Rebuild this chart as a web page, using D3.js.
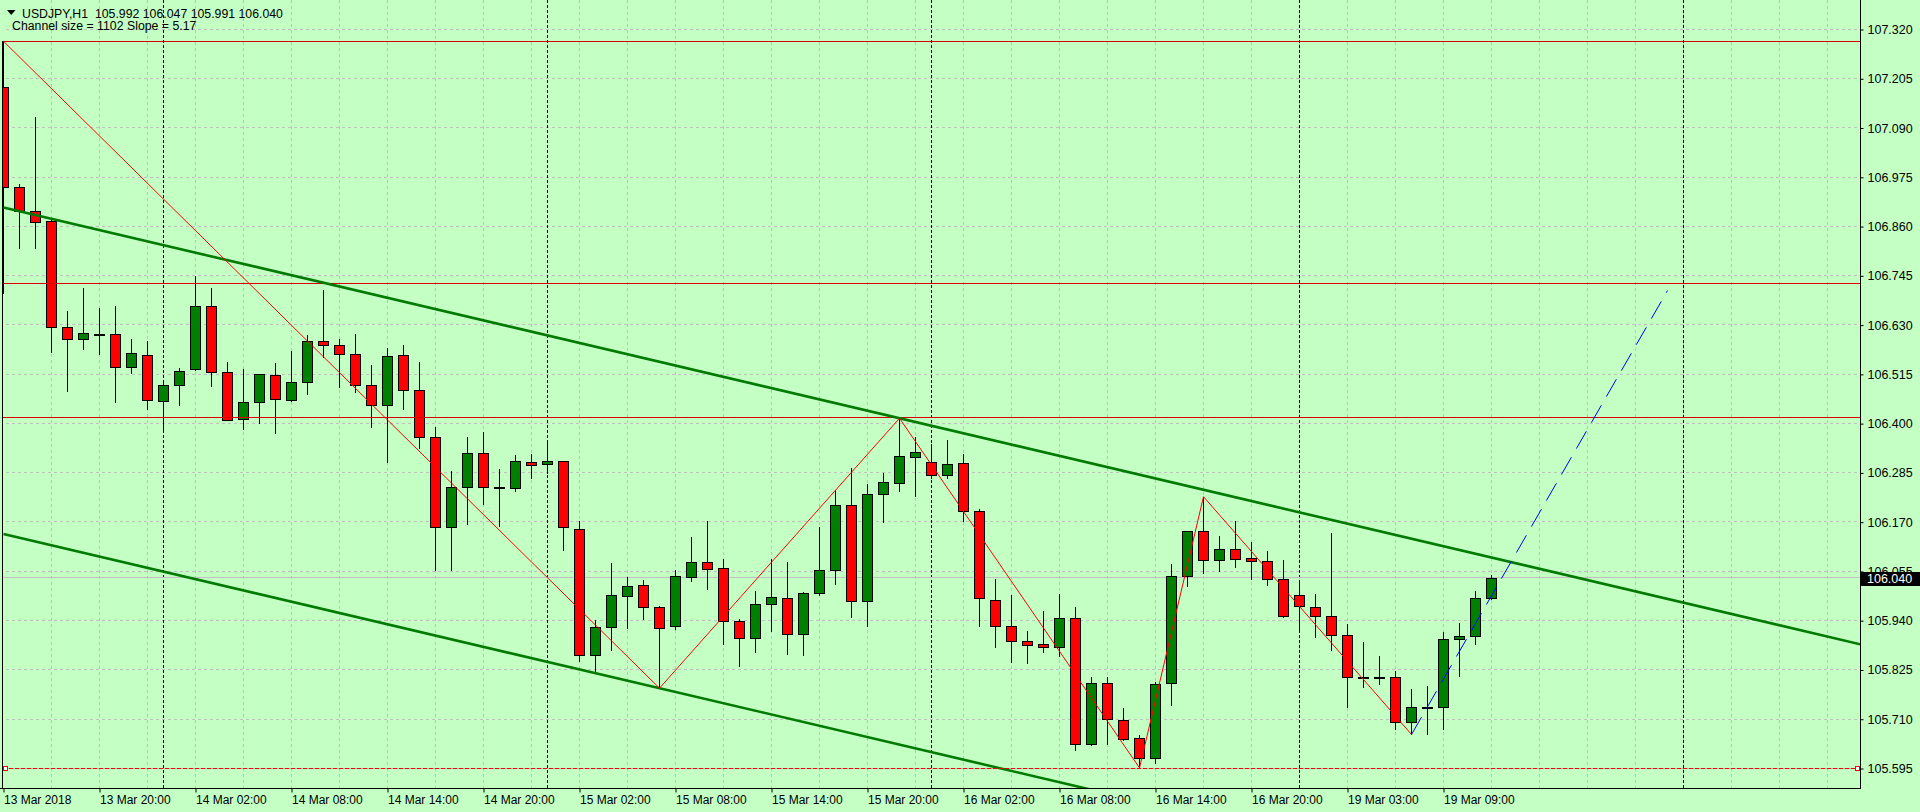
<!DOCTYPE html>
<html><head><meta charset="utf-8">
<script src="https://cdn.jsdelivr.net/npm/d3@7/dist/d3.min.js"></script>
<style>
html,body{margin:0;padding:0;background:#C4FFC4;overflow:hidden}
svg{display:block}
text{font-family:"Liberation Sans",Arial,sans-serif}
</style></head><body>
<svg id="chart" width="1920" height="812"></svg>
<script>
// ---------------- DATA ----------------
const symbolTitle = "USDJPY,H1";
const lastOHLC = ["105.992", "106.047", "105.991", "106.040"];
const channelInfo = "Channel size = 1102 Slope = 5.17";

const opens = [
107.185,106.951,106.897,106.872,106.624,106.596,106.608,106.608,106.531,106.559,
106.452,106.489,106.526,106.673,106.519,106.410,106.451,106.512,106.454,106.496,
106.592,106.582,106.561,106.489,106.442,106.559,106.477,106.368,106.159,106.252,
106.330,106.252,106.250,106.311,106.305,106.312,106.154,105.860,105.924,105.998,
106.022,105.971,105.926,106.042,106.076,106.062,105.940,105.898,105.978,105.992,
105.908,106.005,106.059,106.209,105.986,106.235,106.260,106.321,106.309,106.279,
106.307,106.195,105.989,105.926,105.891,105.884,105.877,105.945,105.651,105.793,
105.707,105.665,105.618,105.793,106.045,106.150,106.081,106.106,106.085,106.078,
106.036,105.999,105.971,105.950,105.905,105.809,105.808,105.809,105.704,105.737,
105.737,105.896,105.903,105.992];
const highs = [
107.292,106.959,107.115,106.875,106.662,106.716,106.669,106.674,106.596,106.592,
106.501,106.529,106.744,106.716,106.543,106.527,106.516,106.540,106.569,106.606,
106.711,106.596,106.609,106.536,106.576,106.583,106.543,106.391,106.290,106.368,
106.379,106.293,106.326,106.329,106.361,106.313,106.172,105.941,106.074,106.042,
106.035,105.975,106.059,106.135,106.172,106.083,105.943,106.010,106.083,106.076,
106.006,106.158,106.245,106.295,106.259,106.284,106.412,106.369,106.352,106.361,
106.329,106.200,106.037,105.999,105.915,105.962,106.002,105.971,105.807,105.807,
105.735,105.673,105.797,106.073,106.150,106.229,106.137,106.172,106.123,106.102,
106.081,106.030,106.003,106.144,105.931,105.890,105.856,105.823,105.781,105.787,
105.912,105.934,106.010,106.047];
const lows = [
106.704,106.810,106.810,106.566,106.476,106.574,106.561,106.451,106.518,106.434,
106.385,106.444,106.524,106.488,106.408,106.388,106.402,106.377,106.453,106.468,
106.556,106.486,106.473,106.391,106.310,106.434,106.343,106.058,106.058,106.165,
106.212,106.161,106.243,106.273,106.285,106.104,105.846,105.817,105.870,105.923,
105.944,105.782,105.921,106.032,106.014,105.885,105.834,105.867,105.916,105.861,
105.860,105.999,106.025,105.949,105.928,106.171,106.243,106.231,106.273,106.272,
106.173,105.928,105.877,105.844,105.840,105.867,105.858,105.637,105.649,105.651,
105.662,105.596,105.607,105.742,106.021,106.052,106.056,106.066,106.038,106.023,
105.949,105.919,105.901,105.870,105.737,105.785,105.792,105.686,105.674,105.675,
105.687,105.810,105.886,105.991];
const closes = [
106.951,106.897,106.870,106.624,106.596,106.610,106.607,106.531,106.564,106.455,
106.489,106.522,106.673,106.519,106.409,106.449,106.515,106.456,106.496,106.592,
106.582,106.561,106.489,106.442,106.557,106.477,106.368,106.159,106.252,106.330,
106.252,106.251,106.313,106.302,106.312,106.158,105.859,105.924,105.999,106.020,
105.972,105.923,106.043,106.076,106.061,105.940,105.898,105.978,105.994,105.908,
106.005,106.059,106.209,105.985,106.235,106.263,106.323,106.333,106.279,106.305,
106.195,105.992,105.926,105.891,105.882,105.877,105.945,105.651,105.793,105.709,
105.663,105.618,105.791,106.045,106.148,106.081,106.106,106.083,106.078,106.036,
105.950,105.973,105.950,105.905,105.807,105.808,105.809,105.702,105.737,105.738,
105.896,105.903,105.992,106.040];

const priceTicks = [105.595,105.710,105.825,105.940,106.055,106.170,106.285,106.400,
                    106.515,106.630,106.745,106.860,106.975,107.090,107.205,107.320];
const timeTickBars = [0,6,12,18,24,30,36,42,48,54,60,66,72,78,84,90];
const timeTickLabels = ["13 Mar 2018","13 Mar 20:00","14 Mar 02:00","14 Mar 08:00","14 Mar 14:00",
  "14 Mar 20:00","15 Mar 02:00","15 Mar 08:00","15 Mar 14:00","15 Mar 20:00","16 Mar 02:00",
  "16 Mar 08:00","16 Mar 14:00","16 Mar 20:00","19 Mar 03:00","19 Mar 09:00"];
const daySeparatorBars = [10,34,58,81,105];

const redLevels = [107.292, 106.727, 106.415];
const bidPrice = 106.040;
const dashedLevel = 105.595;

const zigzagBars = [0,41,56,71,75,88];
const zigzagPrices = [107.292,105.782,106.412,105.596,106.229,105.674];

const upperChannelBars = [0,56];
const upperChannelPrices = [106.904,106.412];
const lowerChannelBars = [0,41];
const lowerChannelPrices = [106.142,105.782];

const projectionBars = [88,104];
const projectionPrices = [105.674,106.710];

// ---------------- LAYOUT ----------------
const W = 1920, H = 812;
const plotRight = 1860, plotBottom = 788;
const BG = "#C4FFC4";
const svg = d3.select("#chart");
svg.append("rect").attr("width", W).attr("height", H).attr("fill", BG);

const x = d3.scaleLinear().domain([0, 116]).range([3.5, 1859.5]);
const y = d3.scaleLinear().domain([105.595, 107.320]).range([768.3, 29.3]);
const cy = v => Math.floor(y(v)) + 0.5;

svg.append("defs").append("clipPath").attr("id", "plotclip")
  .append("rect").attr("x", 3).attr("y", 0).attr("width", plotRight - 3).attr("height", plotBottom);

// grid
const grid = svg.append("g").attr("clip-path", "url(#plotclip)");
grid.selectAll("line.gv").data(d3.range(3, 117, 3)).join("line").attr("class", "gv")
  .attr("x1", d => x(d)).attr("x2", d => x(d)).attr("y1", 0).attr("y2", plotBottom)
  .attr("stroke", "#c0c0c0").attr("stroke-dasharray", "3,3");
grid.selectAll("line.gh").data(priceTicks).join("line").attr("class", "gh")
  .attr("x1", 0).attr("x2", plotRight).attr("y1", d => cy(d)).attr("y2", d => cy(d))
  .attr("stroke", "#c0c0c0").attr("stroke-dasharray", "3,3");

// day separators
grid.selectAll("line.sep").data(daySeparatorBars).join("line").attr("class", "sep")
  .attr("x1", d => x(d)).attr("x2", d => x(d)).attr("y1", 0).attr("y2", plotBottom)
  .attr("stroke", "#000").attr("stroke-dasharray", "3,2");

// bid line
grid.append("line").attr("x1", 0).attr("x2", plotRight)
  .attr("y1", cy(bidPrice)).attr("y2", cy(bidPrice)).attr("stroke", "#c0c0c0");

// candles
const bars = d3.range(opens.length).map(i => ({i, o: opens[i], h: highs[i], l: lows[i], c: closes[i]}));
const cg = svg.append("g").attr("clip-path", "url(#plotclip)");
cg.selectAll("line.wick").data(bars).join("line").attr("class", "wick")
  .attr("x1", d => x(d.i)).attr("x2", d => x(d.i))
  .attr("y1", d => Math.round(y(d.h))).attr("y2", d => Math.round(y(d.l)) + 1)
  .attr("stroke", "#000");
cg.selectAll("rect.body").data(bars).join("rect").attr("class", "body")
  .attr("x", d => x(d.i) - 5).attr("width", 10)
  .attr("y", d => Math.round(y(Math.max(d.o, d.c))) + 0.5)
  .attr("height", d => Math.max(1, Math.round(y(Math.min(d.o, d.c))) - Math.round(y(Math.max(d.o, d.c)))))
  .attr("fill", d => d.c >= d.o ? "#008000" : "#ff0000")
  .attr("stroke", "#000");

// objects
const og = svg.append("g").attr("clip-path", "url(#plotclip)");
og.selectAll("line.lvl").data(redLevels).join("line").attr("class", "lvl")
  .attr("x1", 0).attr("x2", plotRight).attr("y1", d => cy(d)).attr("y2", d => cy(d))
  .attr("stroke", "#dd0000");

function extend(bs, ps, b) {
  const s = (ps[1] - ps[0]) / (bs[1] - bs[0]);
  return ps[0] + s * (b - bs[0]);
}
const lineGen = d3.line().x(d => x(d[0])).y(d => y(d[1]));
[[upperChannelBars, upperChannelPrices], [lowerChannelBars, lowerChannelPrices]].forEach(([bs, ps]) => {
  const pts = [[bs[0], ps[0]], [117, extend(bs, ps, 117)]];
  og.append("path").attr("d", lineGen(pts)).attr("fill", "none")
    .attr("stroke", "#007a00").attr("stroke-width", 2.6);
});

og.append("path").attr("d", lineGen(zigzagBars.map((b, k) => [b, zigzagPrices[k]])))
  .attr("fill", "none").attr("stroke", "#ff0000").attr("stroke-width", 1);

og.append("path").attr("d", lineGen(projectionBars.map((b, k) => [b, projectionPrices[k]])))
  .attr("fill", "none").attr("stroke", "#0000ff").attr("stroke-width", 1).attr("stroke-dasharray", "20,10");

// dashed level with end squares
og.append("line").attr("x1", 3).attr("x2", plotRight).attr("y1", cy(dashedLevel)).attr("y2", cy(dashedLevel))
  .attr("stroke", "#ff0000").attr("stroke-dasharray", "4,2");
[3.5, plotRight - 4.5].forEach(sx => {
  svg.append("rect").attr("x", sx).attr("y", cy(dashedLevel) - 2).attr("width", 4).attr("height", 4)
    .attr("fill", "#ffffff").attr("stroke", "#ff0000");
});

// frame lines
svg.append("line").attr("x1", 2.5).attr("x2", 2.5).attr("y1", Math.round(y(highs[0]))).attr("y2", plotBottom + 1)
  .attr("stroke", "#000");
svg.append("line").attr("x1", plotRight + 0.5).attr("x2", plotRight + 0.5).attr("y1", 0).attr("y2", plotBottom + 1)
  .attr("stroke", "#000");
svg.append("line").attr("x1", 0).attr("x2", plotRight + 1).attr("y1", plotBottom + 0.5).attr("y2", plotBottom + 0.5)
  .attr("stroke", "#000");

// price axis
const ya = svg.append("g").attr("transform", `translate(${plotRight + 0.5},0)`)
  .call(d3.axisRight(d3.scaleLinear().domain(y.domain()).range([768.3, 29.3].map(v => Math.floor(v) + 0.5)))
    .tickValues(priceTicks).tickFormat(d3.format(".3f")).tickSize(3).tickPadding(4));
ya.select(".domain").remove();
ya.attr("font-family", null).attr("font-size", null);
ya.selectAll("text").attr("font-size", "12.5px").attr("fill", "#000");
ya.selectAll("line").attr("stroke", "#000");

// time axis
const xa = svg.append("g").attr("transform", `translate(0,${plotBottom + 0.5})`)
  .call(d3.axisBottom(x).tickValues(timeTickBars).tickFormat((d, k) => timeTickLabels[k]).tickSize(4).tickPadding(3));
xa.select(".domain").remove();
xa.attr("font-family", null).attr("font-size", null);
xa.selectAll("text").attr("font-size", "12px").attr("fill", "#000").attr("text-anchor", "start");
xa.selectAll("line").attr("stroke", "#000");

// current price box
const by = y(bidPrice);
svg.append("rect").attr("x", plotRight + 1).attr("y", Math.round(by) - 6).attr("width", W - plotRight - 1).attr("height", 14)
  .attr("fill", "#000");
svg.append("text").attr("x", plotRight + 7).attr("y", Math.round(by) + 5).attr("font-size", "12.5px")
  .attr("fill", "#fff").text(d3.format(".3f")(bidPrice));

// header
svg.append("path").attr("d", "M7,10 L15.5,10 L11.25,15 Z").attr("fill", "#000");
svg.append("text").attr("x", 22).attr("y", 17.5).attr("font-size", "12.3px").attr("fill", "#000")
  .style("white-space", "pre").text(symbolTitle + "  " + lastOHLC.join(" "));
svg.append("text").attr("x", 12).attr("y", 29.5).attr("font-size", "12.3px").attr("fill", "#000")
  .text(channelInfo);
</script>
</body></html>
